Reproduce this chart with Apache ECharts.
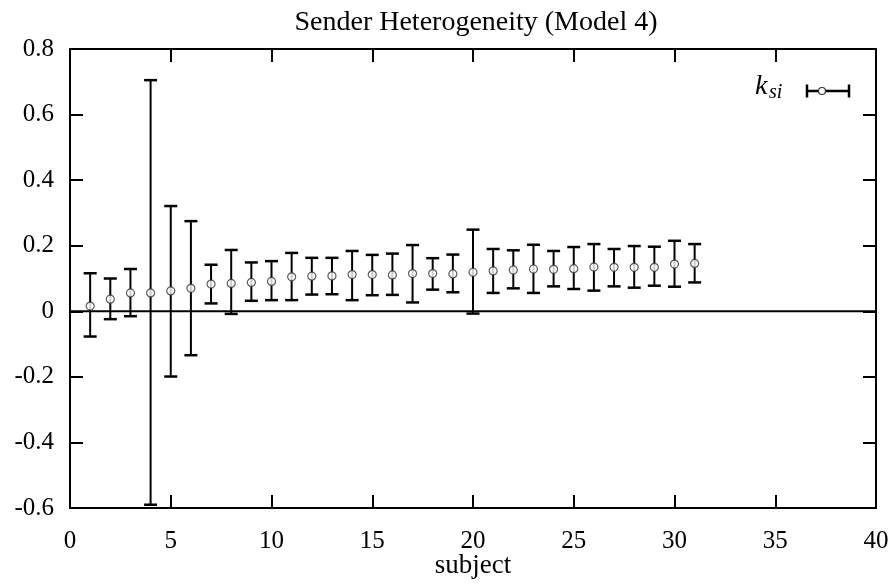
<!DOCTYPE html>
<html>
<head>
<meta charset="utf-8">
<script src="https://cdn.jsdelivr.net/npm/echarts@6/dist/echarts.min.js"></script>
<style>
html,body{margin:0;padding:0;background:#fff;}
#chart{width:891px;height:584px;}
</style>
</head>
<body>
<div id="chart"></div>
<script>
var subjects = [1,2,3,4,5,6,7,8,9,10,11,12,13,14,15,16,17,18,19,20,21,22,23,24,25,26,27,28,29,30,31];
var means = [0.016,0.037,0.056,0.056,0.062,0.070,0.083,0.085,0.088,0.091,0.105,0.107,0.108,0.112,0.112,0.111,0.115,0.115,0.114,0.119,0.123,0.126,0.129,0.128,0.130,0.135,0.134,0.134,0.134,0.144,0.146];
var lows = [-0.077,-0.024,-0.015,-0.590,-0.199,-0.134,0.024,-0.008,0.032,0.034,0.034,0.051,0.052,0.034,0.049,0.050,0.027,0.066,0.058,-0.007,0.056,0.070,0.056,0.076,0.068,0.063,0.076,0.072,0.078,0.075,0.088];
var highs = [0.116,0.100,0.129,0.705,0.321,0.275,0.142,0.187,0.149,0.153,0.178,0.163,0.163,0.184,0.172,0.176,0.202,0.162,0.173,0.249,0.190,0.186,0.203,0.184,0.196,0.205,0.190,0.199,0.197,0.215,0.205];
var xTicks = [0,5,10,15,20,25,30,35,40];
var yTicks = [-0.6,-0.4,-0.2,0,0.2,0.4,0.6,0.8];

var FONT = 'Liberation Serif';
var chart = echarts.init(document.getElementById('chart'), null, {renderer:'canvas'});

var errData = subjects.map(function(s,i){ return [s, lows[i], highs[i]]; });
var ptData = subjects.map(function(s,i){ return [s, means[i]]; });

function fmtY(v){
  var r = Math.round(v*10)/10;
  if (Math.abs(r) < 1e-9) return '0';
  return String(r);
}

var option = {
  animation: false,
  backgroundColor: '#fff',
  title: {
    text: 'Sender Heterogeneity (Model 4)',
    left: 471, top: 4, textAlign: 'center',
    textStyle: {fontFamily: FONT, fontSize: 28, fontWeight: 'normal', color: '#000'}
  },
  grid: {left: 70, right: 15, top: 49, bottom: 76, containLabel: false, outerBoundsMode: 'none'},
  xAxis: [{
    type: 'value', min: 0, max: 40, interval: 5, position: 'bottom',
    name: 'subject', nameLocation: 'middle', nameGap: 44, nameMoveOverlap: false,
    nameTextStyle: {fontFamily: FONT, fontSize: 27, color: '#000'},
    axisLine: {show: true, onZero: false, lineStyle: {color: '#000', width: 2}},
    axisTick: {show: true, inside: true, length: 13, lineStyle: {color: '#000', width: 2}},
    axisLabel: {fontFamily: FONT, fontSize: 25, color: '#000', margin: 21},
    splitLine: {show: false}
  },{
    type: 'value', min: 0, max: 40, interval: 5, position: 'top',
    axisLine: {show: true, onZero: false, lineStyle: {color: '#000', width: 2}},
    axisTick: {show: true, inside: true, length: 13, lineStyle: {color: '#000', width: 2}},
    axisLabel: {show: false}, splitLine: {show: false}
  }],
  yAxis: [{
    type: 'value', min: -0.6, max: 0.8, interval: 0.2, position: 'left',
    axisLine: {show: true, onZero: false, lineStyle: {color: '#000', width: 2}},
    axisTick: {show: true, inside: true, length: 13, lineStyle: {color: '#000', width: 2}},
    axisLabel: {fontFamily: FONT, fontSize: 25, color: '#000', margin: 16, formatter: fmtY},
    splitLine: {show: false}
  },{
    type: 'value', min: -0.6, max: 0.8, interval: 0.2, position: 'right',
    axisLine: {show: true, onZero: false, lineStyle: {color: '#000', width: 2}},
    axisTick: {show: true, inside: true, length: 13, lineStyle: {color: '#000', width: 2}},
    axisLabel: {show: false}, splitLine: {show: false}
  }],
  series: [{
    type: 'line', xAxisIndex: 0, yAxisIndex: 0,
    data: [[0,0],[40,0]], symbol: 'none', silent: true,
    lineStyle: {color: '#000', width: 2}, z: 1
  },{
    type: 'custom', xAxisIndex: 0, yAxisIndex: 0, data: errData, z: 2,
    renderItem: function(params, api){
      var x = api.value(0);
      var lo = api.coord([x, api.value(1)]);
      var hi = api.coord([x, api.value(2)]);
      var hw = 6.5;
      var st = {stroke: '#000', lineWidth: 2};
      return {type: 'group', children: [
        {type: 'line', shape: {x1: lo[0], y1: lo[1], x2: hi[0], y2: hi[1]}, style: st},
        {type: 'line', shape: {x1: lo[0]-hw, y1: lo[1], x2: lo[0]+hw, y2: lo[1]}, style: {stroke:'#000', lineWidth: 2.5}},
        {type: 'line', shape: {x1: hi[0]-hw, y1: hi[1], x2: hi[0]+hw, y2: hi[1]}, style: {stroke:'#000', lineWidth: 2.5}}
      ]};
    }
  },{
    type: 'scatter', xAxisIndex: 0, yAxisIndex: 0, data: ptData, z: 3,
    symbol: 'circle', symbolSize: 8,
    itemStyle: {color: '#fff', borderColor: '#333', borderWidth: 1.2}
  }],
  graphic: [
    {type: 'text', left: 755, top: 73, style: {text: 'k', font: 'italic 28px "Liberation Serif"', fill: '#000'}},
    {type: 'text', left: 769, top: 83, style: {text: 'si', font: 'italic 20px "Liberation Serif"', fill: '#000'}},
    {type: 'line', shape: {x1: 807, y1: 91, x2: 849, y2: 91}, style: {stroke: '#000', lineWidth: 2.5}},
    {type: 'line', shape: {x1: 807, y1: 84.5, x2: 807, y2: 97.5}, style: {stroke: '#000', lineWidth: 2.5}},
    {type: 'line', shape: {x1: 849, y1: 84.5, x2: 849, y2: 97.5}, style: {stroke: '#000', lineWidth: 2.5}},
    {type: 'circle', shape: {cx: 822, cy: 91, r: 3.5}, style: {fill: '#fff', stroke: '#333', lineWidth: 1.2}}
  ]
};
chart.setOption(option);
</script>
</body>
</html>
